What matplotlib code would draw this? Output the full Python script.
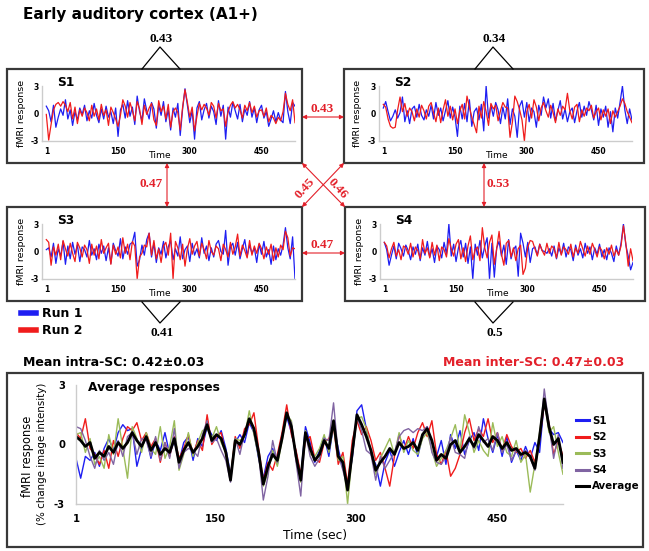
import numpy as np
import matplotlib
matplotlib.use("Agg")
import matplotlib.pyplot as plt
from matplotlib.patches import Rectangle, FancyArrowPatch

# ---- data (fMRI response in % signal change) ----
time_sec = np.arange(1, 522, 5)          # 105 volumes, 1 .. 521 s
x_ticks = [1, 150, 300, 450]
y_ticks = [-3, 0, 3]

s1_run1 = [0.8, 0.3, -0.9, 0.9, -1.5, -0.4, 0.5, -0.2, 1.5, -0.6,
           0.4, -1.3, 0.2, -0.7, 0.6, -0.1, 0.9, -0.8, 0.3, -0.5,
           1.1, -0.2, -1.0, 0.5, -0.6, 0.8, -0.4, 0.2, -1.1, 0.6,
           -2.5, 0.4, 1.0, -0.5, 1.4, -0.3, 0.7, -1.2, 1.9, 0.2,
           -0.8, 1.6, 0.3, -0.6, 1.2, 0.5, -1.6, 0.9, -0.2, 1.3,
           -0.9, 0.4, -1.8, 0.6, -0.4, 1.1, -2.4, 0.5, 2.7, 0.9,
           -1.0, 0.3, -2.8, 0.6, 1.3, -0.7, 0.4, 1.1, -0.5, 0.8,
           0.2, -1.2, 1.4, -0.3, 0.9, -2.8, 0.7, -0.4, 1.2, 0.3,
           -0.6, 1.0, -0.9, 0.5, -0.2, 1.3, -0.4, 0.6, -1.0, 0.4,
           0.9, -0.5, 0.2, -1.4, -0.6, 0.3, -0.9, 0.1, -0.7, -1.0,
           2.4, 0.2, -1.1, 1.2, 0.8]
s1_run2 = [-0.1, -2.9, -1.2, 0.4, 1.0, 1.2, 0.8, 1.3, 0.9, 0.2,
           1.2, -0.6, 0.7, -1.1, 0.4, -0.3, 0.6, 0.1, -0.8, 0.9,
           -0.3, 0.5, -0.7, 1.0, -0.2, 0.4, -1.3, 0.7, 0.1, -0.6,
           -1.4, -0.2, 1.5, 0.8, -0.4, 1.2, 0.3, -0.8, 1.3, 0.5,
           -1.2, 0.9, -0.1, 0.6, 1.1, -0.7, -1.3, 1.4, 0.2, 0.8,
           -0.6, 1.0, -1.5, 0.2, 0.6, 0.1, -1.8, 0.7, 2.6, 1.2,
           -0.4, 0.7, -1.9, -0.3, 1.1, 0.4, 1.0, 0.6, -0.2, 1.2,
           0.8, -0.5, 1.1, 0.3, 0.5, -1.4, 0.2, 0.9, 1.3, 0.6,
           1.0, 0.4, -0.5, 0.9, 0.3, 1.2, 0.1, 0.8, -0.4, 0.3,
           0.4, -0.3, 0.6, -0.9, -0.2, -0.5, -1.1, -0.4, -0.8, 0.2,
           2.2, 1.0, 0.3, 1.5, -1.0]

s2_run1 = [0.6, 1.3, 0.2, -0.8, -0.3, 0.4, -0.5, 0.1, 1.8, -0.9,
           0.3, -1.1, 0.5, 0.8, -0.4, 1.0, -0.2, -0.7, 0.4, -0.3,
           0.9, -0.6, 1.2, -0.2, 0.6, -0.8, 0.3, 1.4, -0.5, 0.7,
           -0.4, -2.5, 0.8, -0.6, 1.1, -0.9, 1.5, -1.4, 0.2, 0.6,
           -0.7, 1.0, -1.9, 3.0, -0.5, 0.9, -0.3, 1.2, 0.4, -1.1,
           0.7, -0.6, 1.6, -1.2, 0.5, -0.3, -2.6, 0.8, 1.4, -0.4,
           1.2, -0.9, 0.6, 0.2, -1.5, 0.9, -0.2, 1.8, 0.6, 1.6,
           -0.5, 1.1, -0.8, 0.3, 1.4, -0.6, 0.5, -0.9, 0.2, 0.6,
           -1.0, 0.3, 1.2, -0.4, 0.8, -0.2, 1.3, 0.4, -0.7, 0.9,
           -1.3, 0.5, -0.4, 0.8, -1.5, 0.2, -2.0, 0.6, -0.5, 1.2,
           3.0, 0.4, -1.1, 0.5, -0.7]
s2_run2 = [1.0, 0.7, -0.6, -1.4, -1.6, -1.5, 0.4, 1.8, 0.2, 1.1,
           -0.3, 0.6, 0.2, -0.8, 0.5, -0.4, 0.9, 0.3, -0.6, 0.8,
           1.2, 0.1, -0.9, 0.6, -1.0, 0.4, 1.5, -0.3, 0.8, -0.7,
           0.5, -1.1, 0.3, 1.0, -0.6, 1.9, 0.7, -0.4, -1.2, -2.1,
           0.8, -0.5, 1.3, 0.2, -1.3, 1.1, 0.5, 0.9, -0.8, 0.3,
           1.2, 0.7, 0.6, -2.6, -0.9, 1.9, 1.3, 0.4, -0.7, -3.0,
           0.2, 1.0, -0.5, 1.5, 0.7, -0.8, 0.6, 1.2, 0.3, -0.4,
           0.9, 0.1, -1.0, 0.5, -0.2, 0.8, 0.4, 2.2, 0.3, -0.6,
           0.7, 1.0, -0.9, 0.4, -0.3, 0.6, 0.3, 0.9, -0.5, 0.2,
           0.6, -0.7, 0.4, -0.3, 0.5, -1.1, 0.3, -0.4, 0.2, 0.8,
           1.6, 1.1, 0.2, -0.4, -1.0]

s3_run1 = [0.2, 0.4, -0.6, 0.9, -1.3, 0.3, -0.5, 1.1, -1.4, 0.6,
           -0.8, 1.0, -0.3, 0.7, -1.1, 0.5, 0.2, -0.6, 1.2, -0.4,
           0.3, -0.9, 0.8, -0.2, 0.6, -1.0, 0.4, -1.3, 0.9, 0.1,
           -0.5, 1.4, -0.8, 0.5, -0.3, 0.8, 1.0, 2.1, -1.6, -0.9,
           0.7, -0.4, 1.3, 2.0, -0.6, 0.9, -1.2, 0.4, -0.3, 1.1,
           -0.7, 0.5, 1.2, -0.9, 0.3, -0.5, 1.6, -0.8, 0.2, 0.6,
           -1.1, 0.9, -0.4, 0.3, -0.7, 1.5, -0.2, 0.6, -1.0, 0.4,
           -0.6, 0.8, 1.2, 0.0, -0.3, 2.3, -1.5, 0.5, 0.9, -0.4,
           1.0, -0.8, 0.3, 1.3, -0.5, 0.7, -0.2, 0.4, -1.2, 0.8,
           -0.3, 1.1, -0.6, 0.2, -1.4, 0.6, -0.9, 0.3, -0.4, 0.7,
           2.6, 0.4, -0.8, 1.6, -3.0]
s3_run2 = [1.3, 1.0, -1.5, 0.5, -0.4, 0.8, -0.9, 1.2, 0.3, -0.5,
           0.9, -0.2, -1.1, 1.0, 0.4, -0.6, 0.7, 0.2, -1.3, 0.8,
           -0.4, 0.6, -0.8, 1.3, -0.2, 0.4, 0.9, -1.4, 0.7, -0.3,
           0.5, -0.7, 1.5, -0.2, 0.8, -0.9, 1.1, 0.6, -3.0, -0.6,
           -0.2, 0.7, 0.5, 2.0, -0.4, 1.2, -0.8, 0.3, -1.2, 0.6,
           1.0, -0.4, 2.0, -3.0, 1.1, 0.4, -0.9, 0.8, -1.6, 0.3,
           1.4, -0.3, 0.6, 1.1, -0.5, 0.9, 0.2, -0.8, 1.2, 0.0,
           -0.4, 0.6, 0.3, -1.0, 0.8, 0.2, -0.6, 1.0, -0.3, 0.5,
           1.9, -0.5, 0.7, 0.1, -0.7, 1.2, -0.4, 0.6, -0.2, 0.9,
           0.3, -0.8, 0.5, -0.3, 0.8, -1.0, 0.4, -0.6, 0.7, 0.2,
           2.2, 1.5, -0.5, 0.4, 0.3]

s4_run1 = [1.0, 0.2, -1.5, -0.4, 0.6, -0.8, 0.9, 0.3, -0.5, 0.7,
           0.1, -0.9, 0.5, -0.3, 0.8, -1.0, 0.4, -0.4, 1.1, -0.6,
           0.3, -1.2, 0.6, 0.2, -0.7, 1.0, -0.3, 3.0, -0.5, 0.8,
           -1.1, 0.4, 1.2, -0.6, 0.9, -1.3, 0.5, -3.0, 0.8, -0.4,
           1.2, -0.7, 0.6, 1.5, -3.0, 0.9, -2.8, 0.4, 1.1, -0.5,
           0.7, -1.4, 1.3, -0.8, 0.2, 0.6, -2.7, 2.0, 0.9, -0.6,
           1.0, -1.2, 0.3, 0.5, -0.4, 0.8, 0.1, 0.0, -0.2, 0.3,
           -0.5, 0.6, -0.8, 0.4, -0.3, 0.9, -0.6, 0.5, 0.2, -1.0,
           0.7, -0.4, 0.3, -0.7, 0.9, -0.2, 0.5, -0.9, 0.4, -0.3,
           0.8, -0.6, 0.2, -0.9, 0.4, -0.2, -1.1, 0.6, -0.4, 0.9,
           3.0, 0.7, -0.5, -2.0, -1.2]
s4_run2 = [1.0, 0.6, -0.7, 0.3, 1.0, -0.5, 0.2, -0.9, 0.6, 0.4,
           -0.3, 0.9, -0.6, 0.5, 0.1, -0.8, 1.3, -0.2, 0.4, -0.7,
           1.0, -0.4, 0.7, -1.0, 0.5, 0.2, -0.6, 1.4, 0.3, -0.5,
           0.8, 1.3, -0.8, 0.4, -1.1, 0.6, 1.7, -0.9, 0.2, 0.5,
           -1.0, 2.6, 0.4, -0.7, 1.0, 1.8, -1.4, 0.3, 2.2, -0.3,
           -1.5, 0.9, 1.2, -0.6, 0.4, -1.0, 0.3, 0.7, -2.5, -1.8,
           0.5, 1.2, 1.1, 0.3, -0.5, 0.8, 0.1, -0.4, 0.9, -0.2,
           0.6, 0.3, -0.7, 1.0, -0.4, 0.5, 0.2, -0.3, 0.8, -0.6,
           0.4, -0.2, 1.1, 0.3, -0.5, 0.6, -0.3, 0.9, 0.2, -0.6,
           0.5, 0.1, -0.8, 0.4, -0.3, 0.7, -0.5, 0.2, -0.4, 0.6,
           2.8, 0.9, -1.6, 0.3, -1.0]

# subject averages (bottom panel)
avg_s1 = [-0.7, -1.7, -0.6, -0.8, -0.4, -1.1, -0.2, 0.3, -0.3, 0.6,
          1.0, 0.7, 0.8, -1.1, -0.2, 0.4, -0.7, 0.2, -0.3, 0.6,
          -0.5, 0.2, -0.9, 0.1, 0.4, -0.8, 0.3, -0.1, 0.9, 0.5,
          0.2, 0.7, -0.2, -1.5, 0.1, 0.5, 0.1, 1.1, 0.6, -0.7,
          -1.7, -0.6, -0.2, -1.0, 0.5, 1.4, 0.6, -0.4, -1.6, 0.9,
          0.1, -0.9, -0.3, 0.4, -0.6, 1.0, -0.2, -1.2, -2.0, -0.7,
          1.7, 2.0, 0.8, -0.5, -1.0, -2.1, -0.9, -0.3, -1.1, -0.4,
          0.2, -0.5, 0.3, -0.6, 0.4, 0.9, 0.1, -0.6, 0.2, -1.0,
          0.5, -0.2, 0.7, -0.5, 0.2, 0.6, -0.3, 1.3, 0.3, -0.4,
          0.5, -0.6, 0.4, -0.9, -0.3, -0.8, -0.1, -0.7, 0.1, -0.4,
          2.2, 0.8, 0.5, 0.6, 0.1]
avg_s2 = [0.6, 0.3, 1.3, -0.2, -0.5, -1.0, -0.3, -1.2, 0.2, -0.6,
          0.3, 0.9, 0.7, 1.1, 0.2, 0.6, -0.1, 0.3, -0.9, 0.1,
          -0.6, 0.4, -0.7, -0.2, 0.5, -0.5, 0.2, -0.3, 1.5, 0.0,
          0.4, 0.6, -0.5, -1.6, 0.4, -0.2, 0.8, 1.0, 1.6, -0.2,
          -1.8, -0.9, -1.3, -0.5, 0.6, 2.0, 0.5, -0.3, -1.5, 0.2,
          0.4, -0.7, -0.9, 0.1, 0.3, 0.9, -1.0, -0.4, -2.0, 0.2,
          1.2, 0.5, 0.9, 0.2, -0.8, -0.4, -1.2, -2.1, -0.6, 0.5,
          -0.3, 0.4, -0.2, 0.6, 1.1, 0.4, 1.2, -0.5, -1.0, -0.3,
          -1.6, -1.2, -0.5, 0.6, 1.3, 0.2, 0.8, 0.4, 1.3, 0.1,
          0.6, -0.3, 0.5, -0.1, -0.4, -0.2, -0.7, -0.3, -0.9, 0.3,
          2.0, 1.1, -0.5, 0.2, -0.6]
avg_s3 = [0.5, 0.6, -0.4, 0.3, -1.0, -0.6, -1.2, 0.5, -0.5, 1.3,
          -0.2, -1.7, 0.9, 0.3, -0.4, 0.6, -0.2, -0.5, 0.9, -0.7,
          -0.1, 1.2, -1.3, -0.5, 0.6, -0.6, 0.1, 0.7, 0.8, 0.3,
          0.9, 0.1, -0.4, -1.6, 0.3, 0.2, 0.4, 1.7, 0.5, -0.6,
          -2.1, -1.4, -0.3, -1.1, 0.2, 1.5, 1.2, -0.8, -1.9, 0.7,
          -0.5, -0.6, -0.2, 0.5, -0.4, 1.0, -0.8, -0.6, -3.0, -0.5,
          1.3, 1.4, 0.8, -0.4, -1.5, -0.7, -0.2, 0.3, -0.5, 0.6,
          -0.4, 0.2, -0.3, -0.5, 0.3, 0.6, -0.3, -1.1, -0.7, -0.3,
          0.3, 1.0, -0.3, 1.5, 0.6, -0.4, 0.2, -0.3, -0.6, 1.1,
          -0.1, 0.4, -0.4, -0.6, 0.2, -0.9, -0.5, -2.4, -1.0, 0.6,
          2.3, 0.6, 0.9, -0.4, -1.5]
avg_s4 = [0.9, 0.8, 0.2, -0.6, -1.2, -0.3, -0.8, -0.4, -1.0, 0.2,
          -0.6, 0.4, 0.6, -0.5, 0.3, 0.2, -0.6, 0.4, -0.8, 0.1,
          -0.7, 0.8, -1.2, -0.4, -0.2, -0.3, -0.6, 0.5, 1.2, 0.1,
          0.3, -0.3, -0.8, -1.9, 0.3, -0.5, 0.6, 1.2, 0.7, -0.5,
          -2.8, -1.6, 0.2, -0.9, 0.4, 1.5, 1.1, -0.9, -2.6, 0.6,
          -0.6, -1.1, -0.7, 0.3, 0.2, 2.1, -0.5, -1.3, -2.2, -0.6,
          1.4, 0.7, -0.3, -0.5, -1.8, -0.6, -1.2, -0.8, -0.4, 0.4,
          0.7, 0.8, 0.6, 0.8, 0.7, 0.9, -0.4, -0.9, -1.0, -0.6,
          0.4, -0.4, -0.5, -0.7, 0.4, -0.2, 0.9, 0.1, 0.3, -0.3,
          0.6, -0.4, 0.0, -0.8, -0.3, -0.6, -0.3, -0.7, -1.3, 0.2,
          2.8, 1.0, -0.7, 0.5, -1.2]
avg_all = [0.4, 0.2, -0.1, 0.1, -0.7, -0.4, -0.6, -0.1, -0.4, 0.1,
           -0.2, 0.1, 0.6, 0.2, -0.1, 0.4, -0.3, 0.1, -0.5, -0.2,
           -0.4, 0.3, -0.9, -0.3, 0.1, -0.4, -0.1, 0.3, 1.0, 0.2,
           0.5, 0.3, -0.4, -1.8, 0.2, 0.0, 0.5, 1.3, 0.8, -0.4,
           -2.0, -1.1, -0.5, -0.8, 0.3, 1.6, 0.9, -0.6, -1.8, 0.6,
           -0.2, -0.8, -0.5, 0.2, -0.2, 1.2, -0.6, -0.9, -2.3, -0.4,
           1.5, 1.0, 0.4, -0.3, -1.3, -0.9, -0.6, -0.2, -0.5, 0.1,
           -0.2, -0.1, 0.1, -0.3, 0.5, 0.8, 0.2, -0.8, -0.5, -0.7,
           0.0, 0.2, -0.4, -0.1, 0.3, -0.1, 0.5, 0.2, -0.1, 0.4,
           0.2, -0.2, 0.1, -0.3, -0.2, -0.5, -0.4, -0.6, -1.2, 0.4,
           2.3, 0.9, 0.0, 0.3, -0.9]

intra_sc = {"S1": "0.43", "S2": "0.34", "S3": "0.41", "S4": "0.5"}
inter_sc = {"S1-S2": "0.43", "S3-S4": "0.47", "S1-S3": "0.47",
            "S2-S4": "0.53", "S1-S4": "0.45", "S2-S3": "0.46"}

for nm, arr in [("s1_run1", s1_run1), ("s1_run2", s1_run2), ("s2_run1", s2_run1),
                ("s2_run2", s2_run2), ("s3_run1", s3_run1), ("s3_run2", s3_run2),
                ("s4_run1", s4_run1), ("s4_run2", s4_run2), ("avg_s1", avg_s1),
                ("avg_s2", avg_s2), ("avg_s3", avg_s3), ("avg_s4", avg_s4),
                ("avg_all", avg_all)]:
    assert len(arr) == len(time_sec), f"{nm}: {len(arr)}"

# ---- styling ----
BLUE = "#1e1ef2"
RED = "#f01c1c"
GREEN = "#9bbb59"
PURPLE = "#8064a2"
ANNOT_RED = "#e3202a"
BOX = "#383838"
AXIS_GRAY = "#cccccc"
SERIF = "Liberation Serif"

W, H = 649, 551
fig = plt.figure(figsize=(W / 100, H / 100), dpi=100)

# overlay axes in pixel coordinates for frames, arrows and loose text
ov = fig.add_axes([0, 0, 1, 1])
ov.set_xlim(0, W)
ov.set_ylim(H, 0)
ov.axis("off")


def px_axes(x0, y0, x1, y1):
    return fig.add_axes([x0 / W, 1 - y1 / H, (x1 - x0) / W, (y1 - y0) / H])


def style_axes(ax, fs, ypad, xpad):
    ax.set_facecolor("none")
    for side in ("top", "right"):
        ax.spines[side].set_visible(False)
    for side in ("left", "bottom"):
        ax.spines[side].set_color(AXIS_GRAY)
        ax.spines[side].set_linewidth(1.0)
    ax.set_ylim(-3, 3)
    ax.set_yticks(y_ticks)
    ax.set_yticklabels([str(v) for v in y_ticks])
    ax.set_xticks(x_ticks)
    ax.set_xticklabels([str(v) for v in x_ticks])
    ax.tick_params(length=0, labelsize=fs)
    ax.tick_params(axis="y", pad=ypad)
    ax.tick_params(axis="x", pad=xpad)
    for lab in ax.get_xticklabels() + ax.get_yticklabels():
        lab.set_fontweight("bold")


ov.text(23, 14, "Early auditory cortex (A1+)", fontsize=11, fontweight="bold",
        ha="left", va="center")

panels = [("S1", 7, 69, 295, s1_run1, s1_run2),
          ("S2", 344, 69, 300, s2_run1, s2_run2),
          ("S3", 7, 207, 295, s3_run1, s3_run2),
          ("S4", 345, 207, 300, s4_run1, s4_run2)]

run_lines = None
for name, bx, by, bw, r1, r2 in panels:
    ov.add_patch(Rectangle((bx, by), bw, 94, fill=False, ec=BOX, lw=1.6))
    ax = px_axes(bx + 35, by + 17, bx + 288, by + 72)
    l1, = ax.plot(time_sec, r1, color=BLUE, lw=0.9)
    l2, = ax.plot(time_sec, r2, color=RED, lw=0.9)
    run_lines = (l1, l2)
    ax.set_xlim(-8, 521)
    style_axes(ax, 5.5, 2, 4)
    ov.text(bx + 50, by + 13, name, fontsize=8.8, fontweight="bold",
            ha="left", va="center")
    ov.text(bx + 14, by + 44, "fMRI response", fontsize=6.8, rotation=90,
            ha="center", va="center")
    ov.text(bx + 153, by + 87, "Time", fontsize=6.6, ha="center", va="center")

# within-subject (intra-SC) carets
for name, bx, top in [("S1", 142, True), ("S2", 475, True),
                      ("S3", 142, False), ("S4", 475, False)]:
    if top:
        ov.plot([bx, bx + 18, bx + 38], [69, 47, 69], color="black", lw=0.9)
        ov.text(bx + 19, 39, intra_sc[name], fontsize=9.5, fontweight="bold",
                family=SERIF, ha="center", va="center")
    else:
        ov.plot([bx, bx + 18, bx + 38], [302, 323, 302], color="black", lw=0.9)
        ov.text(bx + 20, 333, intra_sc[name], fontsize=9.5, fontweight="bold",
                family=SERIF, ha="center", va="center")


# between-subject (inter-SC) arrows
def red_arrow(p0, p1):
    ov.add_patch(FancyArrowPatch(p0, p1, arrowstyle="<|-|>", mutation_scale=6,
                                 color=ANNOT_RED, lw=0.8, shrinkA=0, shrinkB=0))


def red_label(x, y, s, rot=0):
    ov.text(x, y, s, fontsize=9.5, fontweight="bold", family=SERIF,
            color=ANNOT_RED, ha="center", va="center", rotation=rot)


red_arrow((302, 117), (344, 117))
red_label(322, 109, inter_sc["S1-S2"])
red_arrow((302, 253), (345, 253))
red_label(322, 245, inter_sc["S3-S4"])
red_arrow((167, 163), (167, 207))
red_label(151, 184, inter_sc["S1-S3"])
red_arrow((484, 163), (484, 207))
red_label(498, 184, inter_sc["S2-S4"])
red_arrow((302, 163), (345, 207))
red_arrow((344, 163), (302, 207))
red_label(305, 188, inter_sc["S1-S4"], rot=48)
red_label(338, 189, inter_sc["S2-S3"], rot=-48)

fig.legend(run_lines, ["Run 1", "Run 2"], loc="upper left",
           bbox_to_anchor=(21 / W, 1 - 307 / H), frameon=False,
           prop={"size": 9, "weight": "bold"}, handlelength=1.2,
           handletextpad=0.5, labelspacing=0.35, borderpad=0,
           borderaxespad=0)
for lh in fig.legends[0].get_lines():
    lh.set_linewidth(4)

ov.text(23, 362, "Mean intra-SC: 0.42\u00b10.03", fontsize=9, fontweight="bold",
        ha="left", va="center")
ov.text(624, 362, "Mean inter-SC: 0.47\u00b10.03", fontsize=9, fontweight="bold",
        color=ANNOT_RED, ha="right", va="center")

# ---- bottom panel: average responses ----
ov.add_patch(Rectangle((7, 373), 636, 174, fill=False, ec=BOX, lw=1.6))
bax = px_axes(76, 385, 563, 504)
for vals, col, lab in [(avg_s1, BLUE, "S1"), (avg_s2, RED, "S2"),
                       (avg_s3, GREEN, "S3"), (avg_s4, PURPLE, "S4")]:
    bax.plot(time_sec, vals, color=col, lw=1.0, label=lab)
bax.plot(time_sec, avg_all, color="black", lw=2.0, label="Average")
bax.set_xlim(1, 521)
style_axes(bax, 7.2, 8, 7)

ov.text(88, 387, "Average responses", fontsize=8.8, fontweight="bold",
        ha="left", va="center")
ov.text(27, 456, "fMRI response", fontsize=8.3, rotation=90,
        ha="center", va="center")
ov.text(42, 454, "(% change image intensity)", fontsize=7.4, rotation=90,
        ha="center", va="center")
ov.text(315, 535, "Time (sec)", fontsize=8.8, ha="center", va="center")

leg = bax.legend(loc="upper left", bbox_to_anchor=(576 / W, 1 - 416 / H),
                 bbox_transform=fig.transFigure, frameon=False,
                 prop={"size": 7.4, "weight": "bold"}, handlelength=1.3,
                 handletextpad=0.3, labelspacing=0.62, borderpad=0,
                 borderaxespad=0)
for lh in leg.get_lines():
    lh.set_linewidth(2.2)

fig.savefig("out.png", dpi=100)
